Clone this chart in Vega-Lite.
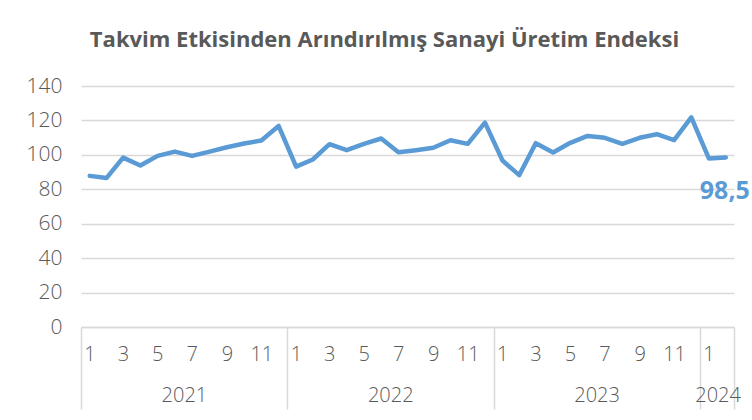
{
  "$schema": "https://vega.github.io/schema/vega-lite/v6.json",
  "width": 653,
  "height": 241,
  "autosize": {"type": "none"},
  "padding": {"left": 81, "top": 86, "right": 18, "bottom": 93},
  "background": "white",
  "title": {
    "text": "Takvim Etkisinden Arındırılmış Sanayi Üretim Endeksi",
    "anchor": "middle",
    "frame": "group",
    "dx": -23,
    "offset": 23,
    "font": "Open Sans",
    "fontSize": 22,
    "fontWeight": "bold",
    "color": "#595959"
  },
  "config": {
    "view": {"stroke": null},
    "locale": {"number": {"decimal": ",", "thousands": ".", "grouping": [3], "currency": ["", " TL"]}},
    "axis": {"labelFont": "Open Sans", "labelFontWeight": 300, "labelColor": "#595959", "labelFontSize": 20}
  },
  "data": {
    "values": [
      {"date": "2021-01", "value": 87.8}, {"date": "2021-02", "value": 86.5}, {"date": "2021-03", "value": 98.4},
      {"date": "2021-04", "value": 93.8}, {"date": "2021-05", "value": 99.4}, {"date": "2021-06", "value": 101.9},
      {"date": "2021-07", "value": 99.4}, {"date": "2021-08", "value": 101.9}, {"date": "2021-09", "value": 104.4},
      {"date": "2021-10", "value": 106.6}, {"date": "2021-11", "value": 108.3}, {"date": "2021-12", "value": 116.8},
      {"date": "2022-01", "value": 93.2}, {"date": "2022-02", "value": 97.3}, {"date": "2022-03", "value": 106.2},
      {"date": "2022-04", "value": 102.7}, {"date": "2022-05", "value": 106.4}, {"date": "2022-06", "value": 109.5},
      {"date": "2022-07", "value": 101.5}, {"date": "2022-08", "value": 102.7}, {"date": "2022-09", "value": 104.1},
      {"date": "2022-10", "value": 108.5}, {"date": "2022-11", "value": 106.4}, {"date": "2022-12", "value": 118.7},
      {"date": "2023-01", "value": 96.7}, {"date": "2023-02", "value": 88.2}, {"date": "2023-03", "value": 106.8},
      {"date": "2023-04", "value": 101.4}, {"date": "2023-05", "value": 107.0}, {"date": "2023-06", "value": 111.0},
      {"date": "2023-07", "value": 109.9}, {"date": "2023-08", "value": 106.4}, {"date": "2023-09", "value": 109.9},
      {"date": "2023-10", "value": 112.0}, {"date": "2023-11", "value": 108.5}, {"date": "2023-12", "value": 121.8},
      {"date": "2024-01", "value": 97.9}, {"date": "2024-02", "value": 98.5}
    ]
  },
  "resolve": {"axis": {"x": "independent", "y": "independent"}},
  "layer": [
    {
      "mark": {"type": "line", "color": "#5b9bd5", "strokeWidth": 4.5, "strokeJoin": "round", "strokeCap": "round"},
      "encoding": {
        "x": {
          "field": "date", "type": "temporal", "timeUnit": "utcyearmonth", "bandPosition": 0.5,
          "scale": {"domain": [{"year": 2021, "month": 1, "date": 1, "utc": true}, {"year": 2024, "month": 3, "date": 1, "utc": true}], "nice": false},
          "axis": {
            "orient": "bottom", "title": null, "grid": false, "ticks": false,
            "domain": true, "domainColor": "#d9d9d9", "domainWidth": 1.5,
            "labelPadding": 17, "labelAngle": 0, "labelAlign": "center", "labelOverlap": false,
            "labelExpr": "utcmonth(datum.value) + 1",
            "values": [
              {"year": 2021, "month": 1, "date": 16, "utc": true}, {"year": 2021, "month": 3, "date": 16, "utc": true},
              {"year": 2021, "month": 5, "date": 16, "utc": true}, {"year": 2021, "month": 7, "date": 16, "utc": true},
              {"year": 2021, "month": 9, "date": 16, "utc": true}, {"year": 2021, "month": 11, "date": 16, "utc": true},
              {"year": 2022, "month": 1, "date": 16, "utc": true}, {"year": 2022, "month": 3, "date": 16, "utc": true},
              {"year": 2022, "month": 5, "date": 16, "utc": true}, {"year": 2022, "month": 7, "date": 16, "utc": true},
              {"year": 2022, "month": 9, "date": 16, "utc": true}, {"year": 2022, "month": 11, "date": 16, "utc": true},
              {"year": 2023, "month": 1, "date": 16, "utc": true}, {"year": 2023, "month": 3, "date": 16, "utc": true},
              {"year": 2023, "month": 5, "date": 16, "utc": true}, {"year": 2023, "month": 7, "date": 16, "utc": true},
              {"year": 2023, "month": 9, "date": 16, "utc": true}, {"year": 2023, "month": 11, "date": 16, "utc": true},
              {"year": 2024, "month": 1, "date": 16, "utc": true}
            ]
          }
        },
        "y": {
          "field": "value", "type": "quantitative",
          "scale": {"domain": [0, 140], "nice": false, "zero": true},
          "axis": {
            "orient": "left", "title": null, "values": [0, 20, 40, 60, 80, 100, 120, 140],
            "grid": true, "gridColor": "#d9d9d9", "gridWidth": 1.4, "labelOverlap": false,
            "domain": false, "ticks": false, "labelPadding": 19, "labelFontSize": 21
          }
        }
      }
    },
    {
      "mark": {"type": "point", "opacity": 0},
      "encoding": {
        "x": {
          "field": "date", "type": "temporal", "timeUnit": "utcyearmonth", "bandPosition": 0.5,
          "scale": {"domain": [{"year": 2021, "month": 1, "date": 1, "utc": true}, {"year": 2024, "month": 3, "date": 1, "utc": true}], "nice": false},
          "axis": {
            "orient": "bottom", "title": null, "grid": false, "domain": false, "labels": false,
            "ticks": true, "tickColor": "#d9d9d9", "tickWidth": 1.5, "tickSize": 82,
            "values": [
              {"year": 2021, "month": 1, "date": 1, "utc": true}, {"year": 2022, "month": 1, "date": 1, "utc": true},
              {"year": 2023, "month": 1, "date": 1, "utc": true}, {"year": 2024, "month": 1, "date": 1, "utc": true},
              {"year": 2024, "month": 3, "date": 1, "utc": true}
            ]
          }
        }
      }
    },
    {
      "mark": {"type": "point", "opacity": 0},
      "encoding": {
        "x": {
          "field": "date", "type": "temporal", "timeUnit": "utcyearmonth", "bandPosition": 0.5,
          "scale": {"domain": [{"year": 2021, "month": 1, "date": 1, "utc": true}, {"year": 2024, "month": 3, "date": 1, "utc": true}], "nice": false},
          "axis": {
            "orient": "bottom", "title": null, "grid": false, "domain": false, "ticks": false,
            "labelPadding": 58, "labelAngle": 0, "labelAlign": "center", "labelOverlap": false,
            "labelExpr": "utcyear(datum.value)",
            "values": [
              {"year": 2021, "month": 7, "date": 2, "utc": true}, {"year": 2022, "month": 7, "date": 2, "utc": true},
              {"year": 2023, "month": 7, "date": 2, "utc": true}, {"year": 2024, "month": 2, "date": 1, "utc": true}
            ]
          }
        }
      }
    },
    {
      "transform": [{"filter": "utcyear(datum.date) == 2024 && utcmonth(datum.date) == 1"}],
      "mark": {"type": "text", "color": "#5b9bd5", "font": "Open Sans", "fontWeight": "bold", "fontSize": 25, "dy": 34, "dx": -1, "align": "center", "baseline": "middle"},
      "encoding": {
        "x": {"field": "date", "type": "temporal", "timeUnit": "utcyearmonth", "bandPosition": 0.5, "axis": null},
        "y": {"field": "value", "type": "quantitative", "axis": null},
        "text": {"field": "value", "type": "quantitative", "format": ".1f"}
      }
    }
  ]
}
